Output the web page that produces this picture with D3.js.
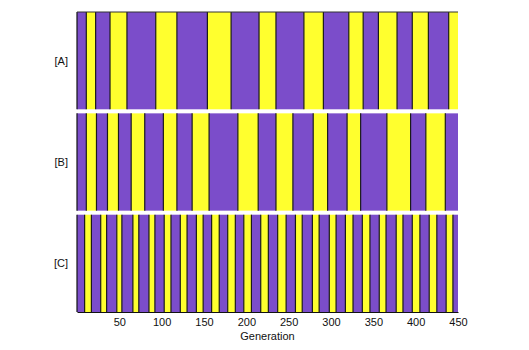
<!DOCTYPE html>
<html>
<head>
<meta charset="utf-8">
<script src="https://cdn.jsdelivr.net/npm/d3@7"></script>
<style>
  body { margin: 0; background: #fff; }
  svg text { font-family: "Liberation Sans", Arial, sans-serif; fill: #111; }
</style>
</head>
<body>
<svg id="chart" width="529" height="350"></svg>
<script>
// generation range shown on x
const genMax = 450;
const xTicks = [50, 100, 150, 200, 250, 300, 350, 400, 450];
const rowNames = ["[A]", "[B]", "[C]"];
const stateColors = ["#7b4dca", "#ffff2e"]; // state 0 (purple), state 1 (yellow)

// generations at which the state flips (each row starts in state 0)
const switchesA = [11, 22, 39, 59, 93, 118, 154, 182, 215, 235, 268, 291, 321, 338,
                   356, 378, 396, 415, 439];
const switchesB = [11, 23, 36, 49, 64, 80, 102, 118, 136, 156, 190, 214, 235, 255,
                   279, 296, 319, 335, 366, 394, 412, 435];
const switchesC = [9, 17, 28, 35, 47, 53, 66, 73, 85, 92, 103, 111, 122, 130, 141, 149,
                   159, 168, 178, 187, 197, 206, 217, 226, 237, 247, 258, 266, 278, 286,
                   298, 306, 317, 326, 337, 346, 357, 365, 377, 385, 396, 405, 416, 425,
                   436, 444];
const rowSwitches = [switchesA, switchesB, switchesC];

const svg = d3.select("#chart");
const mLeft = 77, mRight = 458, mTop = 12, mBottom = 312;

let x = d3.scaleLinear().domain([0, genMax]).range([mLeft, mRight]);
let rowBand = d3.scaleBand().domain(rowNames).range([mTop, mBottom]).paddingInner(0.04);

rowNames.forEach(function(name, i) {
    let sw = rowSwitches[i];
    let edges = [0].concat(sw, [genMax]);
    let segs = d3.range(edges.length - 1).map(function(k) {
        return { g0: edges[k], g1: edges[k + 1], state: k % 2 };
    });
    let y0 = rowBand(name), h = rowBand.bandwidth();

    let g = svg.append("g").attr("class", "row");
    g.selectAll("rect")
        .data(segs).enter().append("rect")
        .attr("x", d => x(d.g0))
        .attr("y", y0)
        .attr("width", d => x(d.g1) - x(d.g0))
        .attr("height", h)
        .attr("fill", d => stateColors[d.state]);

    // dark edge at each switch
    g.selectAll("line.edge")
        .data(sw).enter().append("line")
        .attr("class", "edge")
        .attr("x1", d => x(d)).attr("x2", d => x(d))
        .attr("y1", y0).attr("y2", y0 + h)
        .attr("stroke", "#1a1a1a")
        .attr("stroke-width", 1.2);

    // left frame for this row
    g.append("line")
        .attr("x1", mLeft).attr("x2", mLeft)
        .attr("y1", y0).attr("y2", y0 + h)
        .attr("stroke", "#111").attr("stroke-width", 1.2);

    svg.append("text")
        .attr("x", 68)
        .attr("y", y0 + h / 2 + 4)
        .attr("text-anchor", "end")
        .attr("font-size", 11)
        .text(name);
});

// top frame line
svg.append("line")
    .attr("x1", mLeft).attr("x2", mRight).attr("y1", mTop).attr("y2", mTop)
    .attr("stroke", "#333").attr("stroke-width", 1);

let xAxis = d3.axisBottom(x).tickValues(xTicks).tickSize(0).tickPadding(6);
let ax = svg.append("g")
    .attr("transform", "translate(0," + mBottom + ")")
    .call(xAxis);
ax.select(".domain").attr("stroke", "#111").attr("stroke-width", 1.2);
ax.selectAll("text")
    .attr("font-size", 11)
    .attr("font-family", "Liberation Sans, Arial, sans-serif")
    .attr("fill", "#111");

svg.append("text")
    .attr("x", (mLeft + mRight) / 2)
    .attr("y", 340)
    .attr("text-anchor", "middle")
    .attr("font-size", 11)
    .text("Generation");
</script>
</body>
</html>
